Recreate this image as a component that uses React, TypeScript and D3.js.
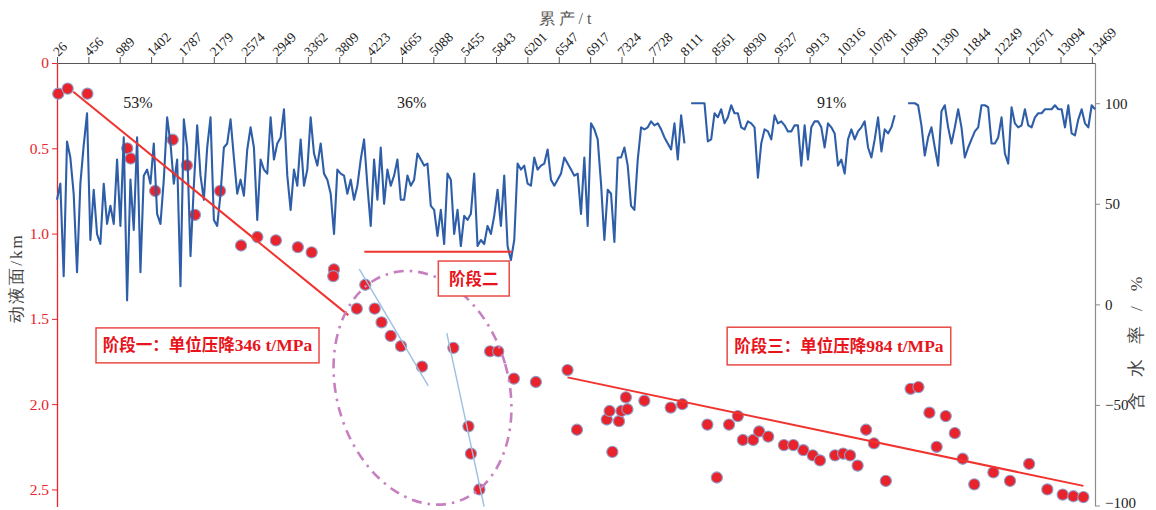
import React, { useEffect, useRef } from 'react';
import * as d3 from 'd3';

// Cumulative production labels (t) along the top axis, one per tick
const CUM_TICKS = [
  '26', '456', '989', '1402', '1787', '2179', '2574', '2949', '3362', '3809', '4223',
  '4665', '5088', '5455', '5843', '6201', '6547', '6917', '7324', '7728', '8111',
  '8561', '8930', '9527', '9913', '10316', '10781', '10989', '11390', '11844',
  '12249', '12671', '13094', '13469',
];

// Water cut (%) records, evenly spaced along the production axis; null = no record
const WATER_CUT: (number | null)[] = [
  52, 60, 14, 81, 73, 55, 16, 60, 79, 95,
  32, 57, 35, 30, 60, 40, 49, 40, 72, 39,
  83, 2, 62, 37, 83, 16, 64, 67, 60, 80,
  45, 40, 62, 93, 80, 60, 72, 9, 92, 78,
  24, 59, 89, 64, 52, 78, 93, 42, 39, 55,
  78, 80, 92, 73, 55, 62, 54, 77, 88, 78,
  42, 72, 67, 65, 93, 72, 80, 83, 97, 64,
  47, 67, 59, 82, 59, 67, 93, 75, 69, 80,
  65, 62, 55, 35, 67, 65, 64, 55, 62, 52,
  59, 72, 82, 59, 39, 72, 52, 78, 50, 67,
  59, 64, 72, 52,
  52, 64, 59, 62, 75, 72, 69, 70, 49, 47,
  34, 47, 30, 65, 62, 35, 47, 29, 44, 42,
  45, 65, 29, 32, 30, 39, 35, 44, 57, 39,
  64, 29, 22, 32, 70, 67, 69, 60, 59, 73,
  67, 69, 70, 77, 62, 59, 62, 65, 73, 70,
  67, 64, 65, 45, 73, 39, 90, 87, 82, 60,
  32, 57, 55, 31, 73, 73, 78, 69, 49, 47,
  72, 88, 87, 88, 91, 89, 90, 87, 83, 80,
  77, 90, 72, 94, 80,
  null,
  100, 100, 100, 100, 100, 81, 82, 95, 93, 97,
  90, 93, 99, 95, 95, 88, 87, 91, 90, 88,
  63, 80, 87, 86, 82, 94, 90, 91, 89, 86,
  86, 89, 89, 69, 89, 72, 88, 91, 91, 88,
  78, 90, 88, 85, 69, 72, 65, 82, 87, 82,
  86, 88, 91, 78, 73, 82, 93, 76, 87, 85,
  88, 94,
  null, null, null,
  100, 100, 100, 99, 89, 74, 83, 88, 78, 69,
  96, 99, 88, 80, 88, 97, 88, 73, 78, 82,
  86, 88, 99, 99, 98, 80, 80, 83, 93, 75,
  70, 98, 90, 88, 89, 97, 89, 88, 93, 95,
  95, 97, 97, 97, 99, 97, 97, 88, 99, 85,
  84, 92, 97, 90, 88, 99, 97,
];

// Dynamic fluid level measurements: position on the production axis (tick units) and depth (km)
const LEVEL_POS = [
  0.04, 0.34, 0.97, 2.24, 2.35, 3.13, 3.69, 4.14, 4.4, 5.2,
  5.87, 6.39, 6.98, 7.68, 8.12, 8.83, 8.81, 9.83, 9.56, 10.13,
  10.35, 10.64, 10.97, 11.64, 12.64, 13.81, 14.07, 13.12, 13.2, 13.47,
  14.57, 15.27, 16.28, 16.58, 17.53, 17.62, 17.71, 17.92, 18.0, 18.14,
  18.19, 18.73, 19.57, 19.94, 20.74, 21.04, 21.43, 21.71, 21.87, 22.2,
  22.39, 22.68, 23.18, 23.48, 23.8, 24.1, 24.33, 24.81, 25.07, 25.29,
  25.53, 25.8, 26.05, 26.43, 27.22, 27.47, 27.82, 28.05, 28.34, 28.63,
  28.88, 29.25, 29.86, 30.39, 31.0, 31.58, 32.07, 32.41, 32.73,
];
const LEVEL_KM = [
  0.18, 0.15, 0.18, 0.5, 0.56, 0.75, 0.45, 0.6, 0.89, 0.75,
  1.07, 1.02, 1.04, 1.08, 1.11, 1.21, 1.25, 1.3, 1.44, 1.44,
  1.52, 1.6, 1.66, 1.78, 1.67, 1.69, 1.69, 2.13, 2.29, 2.5,
  1.85, 1.87, 1.8, 2.15, 2.09, 2.04, 2.28, 2.1, 2.04, 1.96,
  2.03, 1.98, 2.02, 2.0, 2.12, 2.43, 2.12, 2.07, 2.21, 2.21,
  2.16, 2.19, 2.24, 2.24, 2.27, 2.3, 2.33, 2.3, 2.29, 2.3,
  2.36, 2.15, 2.23, 2.45, 1.91, 1.9, 2.05, 2.25, 2.07, 2.17,
  2.32, 2.47, 2.4, 2.45, 2.35, 2.5, 2.53, 2.54, 2.545,
];

// Fitted stage lines, endpoints as [tick position, km]
const STAGE1_FIT: [number, number][] = [[0.52, 0.168], [9.29, 1.478]];
const STAGE2_LEVEL: [number, number][] = [[9.8, 1.106], [14.5, 1.106]];
const STAGE3_FIT: [number, number][] = [[16.28, 1.843], [32.73, 2.479]];
const TRANSITION_A: [number, number][] = [[9.64, 1.209], [11.84, 1.893]];
const TRANSITION_B: [number, number][] = [[12.43, 1.584], [13.62, 2.6]];

// Average water cut per stage: [tick position, km, text]
const STAGE_WATER_CUT: [number, number, string][] = [
  [2.58, 0.264, '53%'],
  [11.31, 0.264, '36%'],
  [24.7, 0.261, '91%'],
];

// Stage callouts: [pos0, pos1, km0, km1], cjk text, number text
const STAGE_BOXES: { box: [number, number, number, number]; cjk: string; num: string }[] = [
  { box: [1.244, 8.355, 1.553, 1.758], cjk: '阶段一：单位压降', num: '346 t/MPa' },
  { box: [12.16, 14.42, 1.161, 1.366], cjk: '阶段二', num: '' },
  { box: [21.37, 28.5, 1.549, 1.77], cjk: '阶段三：单位压降', num: '984 t/MPa' },
];

// Transition zone outline: centre [tick position, km]
const TRANSITION_ZONE_CENTER: [number, number] = [11.655, 1.904];

const SERIF = '"Liberation Serif", "Times New Roman", serif';
const CJK = '"Noto Sans CJK SC", "Noto Sans", sans-serif';
const RED = '#e8262b';
const BLUE = '#2f5ea8';

export default function App() {
  const ref = useRef<SVGSVGElement>(null);

  useEffect(() => {
    const svg = d3.select(ref.current);
    svg.selectAll('*').remove();

    const left = 57, right = 1095, top = 63, bottom = 506.5;

    const x = d3.scaleLinear().domain([0, CUM_TICKS.length - 1 + 0.1]).range([left, right]);
    const yKm = d3.scaleLinear().domain([0, 2.6]).range([top, bottom]);
    const yWc = d3.scaleLinear().domain([-100, 120]).range([505.5, top]);

    // Top axis: cumulative production
    const gTop = svg.append('g')
      .attr('transform', `translate(0,${top})`)
      .call(
        d3.axisTop(x)
          .tickValues(d3.range(CUM_TICKS.length))
          .tickFormat((d) => CUM_TICKS[d as number])
          .tickSize(6)
          .tickSizeOuter(0)
      );
    gTop.attr('font-family', SERIF).attr('font-size', 13.5);
    gTop.select('.domain').attr('stroke', '#555');
    gTop.selectAll('.tick line').attr('stroke', '#555');
    gTop.selectAll('.tick text')
      .attr('x', 0).attr('y', 0).attr('dy', null)
      .attr('transform', 'translate(1,-6) rotate(-45)')
      .style('text-anchor', 'start')
      .attr('fill', '#222');

    // Left axis: dynamic fluid level
    const gLeft = svg.append('g')
      .attr('transform', `translate(${left},0)`)
      .call(
        d3.axisLeft(yKm)
          .tickValues([0, 0.5, 1, 1.5, 2, 2.5])
          .tickFormat((d) => ((d as number) === 0 ? '0' : d3.format('.1f')(d as number)))
          .tickSize(5)
          .tickPadding(3)
          .tickSizeOuter(0)
      );
    gLeft.attr('font-family', SERIF).attr('font-size', 15.5);
    gLeft.select('.domain').attr('stroke', RED).attr('stroke-width', 1.3);
    gLeft.selectAll('.tick line').attr('stroke', RED);
    gLeft.selectAll('.tick text').attr('fill', RED);

    // Right axis: water cut
    const gRight = svg.append('g')
      .attr('transform', `translate(${right},0)`)
      .call(
        d3.axisRight(yWc)
          .tickValues([-100, -50, 0, 50, 100])
          .tickSize(5)
          .tickPadding(5)
          .tickSizeOuter(0)
      );
    gRight.attr('font-family', SERIF).attr('font-size', 15);
    gRight.select('.domain').attr('stroke', '#8c8c8c').attr('stroke-width', 1.2);
    gRight.selectAll('.tick line').attr('stroke', '#8c8c8c');
    gRight.selectAll<SVGTextElement, number>('.tick text')
      .attr('fill', '#222')
      .attr('dy', (d) => (d === -100 ? '0.15em' : '0.32em'));

    // Axis titles
    svg.append('text')
      .attr('x', 567).attr('y', 24)
      .attr('text-anchor', 'middle')
      .attr('font-family', SERIF).attr('font-size', 16)
      .attr('letter-spacing', 4)
      .attr('fill', '#555')
      .text('累产/t');
    svg.append('text')
      .attr('transform', 'translate(22,278) rotate(-90)')
      .attr('text-anchor', 'middle')
      .attr('font-family', SERIF).attr('font-size', 17)
      .attr('letter-spacing', 2)
      .attr('fill', '#444')
      .text('动液面/km');
    svg.append('text')
      .attr('transform', 'translate(1142,410) rotate(-90)')
      .attr('text-anchor', 'start')
      .attr('font-family', SERIF).attr('font-size', 17.5)
      .attr('letter-spacing', 15)
      .attr('fill', '#444')
      .text('含水率/%');

    // Fluid level points
    svg.append('g')
      .selectAll('circle')
      .data(LEVEL_POS.map((p, i) => [p, LEVEL_KM[i]] as [number, number]))
      .join('circle')
      .attr('cx', (d) => x(d[0]))
      .attr('cy', (d) => yKm(d[1]))
      .attr('r', 5.6)
      .attr('fill', '#e8232c')
      .attr('stroke', '#8f9fcc')
      .attr('stroke-width', 1.1);

    // Water cut curve
    const step = x.domain()[1] / (WATER_CUT.length - 1);
    const wcLine = d3.line<number | null>()
      .defined((d) => d != null)
      .x((_, i) => x(i * step))
      .y((d) => yWc(d as number));
    svg.append('path')
      .datum(WATER_CUT)
      .attr('d', wcLine)
      .attr('fill', 'none')
      .attr('stroke', BLUE)
      .attr('stroke-width', 2.1)
      .attr('stroke-linejoin', 'round');

    const seg = d3.line<[number, number]>().x((d) => x(d[0])).y((d) => yKm(d[1]));

    // Stage trend lines
    [STAGE1_FIT, STAGE2_LEVEL, STAGE3_FIT].forEach((pts) => {
      svg.append('path')
        .datum(pts)
        .attr('d', seg)
        .attr('fill', 'none')
        .attr('stroke', '#f0332e')
        .attr('stroke-width', 2);
    });

    // Transition-zone trend lines
    [TRANSITION_A, TRANSITION_B].forEach((pts) => {
      svg.append('path')
        .datum(pts)
        .attr('d', seg)
        .attr('fill', 'none')
        .attr('stroke', '#9cc0e2')
        .attr('stroke-width', 1.4);
    });

    // Transition-zone outline
    svg.append('ellipse')
      .attr('transform', `translate(${x(TRANSITION_ZONE_CENTER[0])},${yKm(TRANSITION_ZONE_CENTER[1])}) rotate(-16)`)
      .attr('rx', 86)
      .attr('ry', 119)
      .attr('fill', 'none')
      .attr('stroke', '#c77fbf')
      .attr('stroke-width', 2.6)
      .attr('stroke-dasharray', '10 6 2.5 6');

    // Stage water cut labels
    svg.append('g')
      .selectAll('text')
      .data(STAGE_WATER_CUT)
      .join('text')
      .attr('x', (d) => x(d[0]))
      .attr('y', (d) => yKm(d[1]))
      .attr('text-anchor', 'middle')
      .attr('font-family', SERIF)
      .attr('font-size', 16)
      .attr('fill', '#222')
      .text((d) => d[2]);

    // Stage callout boxes
    STAGE_BOXES.forEach(({ box, cjk, num }) => {
      const x0 = x(box[0]), x1 = x(box[1]);
      const y0 = yKm(box[2]), y1 = yKm(box[3]);
      svg.append('rect')
        .attr('x', x0).attr('y', y0)
        .attr('width', x1 - x0).attr('height', y1 - y0)
        .attr('fill', '#fff')
        .attr('stroke', '#ea4a45')
        .attr('stroke-width', 1.5);
      const t = svg.append('text')
        .attr('x', (x0 + x1) / 2)
        .attr('y', (y0 + y1) / 2 + 6)
        .attr('text-anchor', 'middle')
        .attr('font-weight', 'bold')
        .attr('fill', '#e8141c');
      t.append('tspan').attr('font-family', CJK).attr('font-size', 16.5).text(cjk);
      if (num) t.append('tspan').attr('font-family', SERIF).attr('font-size', 17.5).text(num);
    });
  }, []);

  return (
    <>
      <style>{'html,body{margin:0;padding:0;background:#fff;overflow:hidden;}'}</style>
      <svg ref={ref} width={1156} height={510} style={{ display: 'block', background: '#fff' }} />
    </>
  );
}
